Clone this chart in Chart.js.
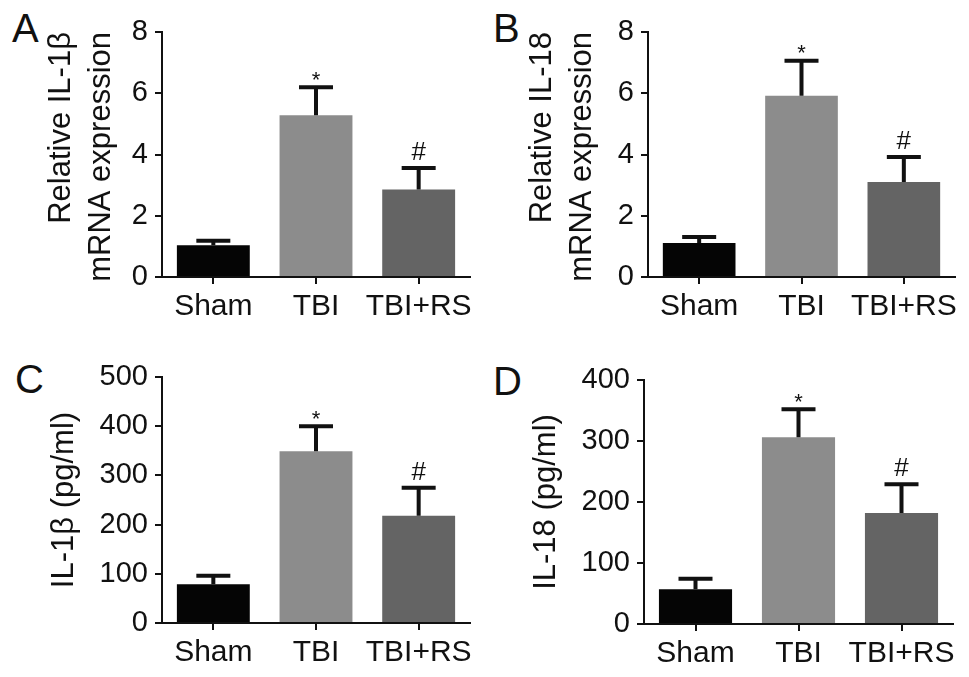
<!DOCTYPE html>
<html>
<head>
<meta charset="utf-8">
<script src="https://cdn.jsdelivr.net/npm/chart.js@4.4.0/dist/chart.umd.min.js"></script>
<style>
  body { margin: 0; background: #fff; }
  #fig { position: relative; width: 969px; height: 677px; overflow: hidden; }
  .panel { position: absolute; }
  .letter { position: absolute; font: 40px "Liberation Sans", Arial, sans-serif; line-height: 40px; color: #111; }
</style>
</head>
<body>
<div id="fig"></div>
<script>
// groups on the x axis
const groups = ['Sham', 'TBI', 'TBI+RS'];
const groupColors = ['#050505', '#8c8c8c', '#646464'];
const marks = ['', '*', '#'];

// A: relative IL-1β mRNA
const il1bMrna = [1.04, 5.28, 2.86];
const il1bMrnaErr = [0.14, 0.92, 0.70];
// B: relative IL-18 mRNA
const il18Mrna = [1.11, 5.92, 3.10];
const il18MrnaErr = [0.20, 1.14, 0.82];
// C: IL-1β protein (pg/ml)
const il1bProt = [79, 349, 218];
const il1bProtErr = [17, 51, 57];
// D: IL-18 protein (pg/ml)
const il18Prot = [57, 306, 182];
const il18ProtErr = [17, 46, 47];

const font = '"Liberation Sans", Arial, sans-serif';
const ink = '#111';

const panels = [
  { letter: 'A', lx: 12, ly: 8, values: il1bMrna, errors: il1bMrnaErr, max: 8, step: 2,
    title: ['Relative IL-1β', 'mRNA expression'], align: 'end', tpad: 41,
    x: 0, y: 0, w: 480, h: 330, axisX: 162, top: 32, bottom: 277, right: 470 },
  { letter: 'B', lx: 493, ly: 8, values: il18Mrna, errors: il18MrnaErr, max: 8, step: 2,
    title: ['Relative IL-18', 'mRNA expression'], align: 'end', tpad: 42,
    x: 480, y: 0, w: 489, h: 330, axisX: 168, top: 32, bottom: 277, right: 475 },
  { letter: 'C', lx: 15, ly: 359, values: il1bProt, errors: il1bProtErr, max: 500, step: 100,
    title: 'IL-1β (pg/ml)', align: 'center', tpad: 44,
    x: 0, y: 330, w: 480, h: 347, axisX: 162, top: 47, bottom: 293, right: 470 },
  { letter: 'D', lx: 493, ly: 361, values: il18Prot, errors: il18ProtErr, max: 400, step: 100,
    title: 'IL-18 (pg/ml)', align: 'center', tpad: 46,
    x: 480, y: 330, w: 489, h: 347, axisX: 164, top: 50, bottom: 294, right: 473 }
];

// upper error bars plus the * / # marks
const errorBars = {
  id: 'errorBars',
  afterDatasetsDraw(chart, args, opts) {
    const ctx = chart.ctx;
    const yScale = chart.scales.y;
    const meta = chart.getDatasetMeta(0);
    const vals = chart.data.datasets[0].data;
    ctx.save();
    ctx.strokeStyle = ink;
    ctx.fillStyle = ink;
    ctx.lineWidth = 4;
    meta.data.forEach((bar, i) => {
      const yTop = yScale.getPixelForValue(vals[i]);
      const yCap = yScale.getPixelForValue(vals[i] + opts.errors[i]);
      ctx.beginPath();
      ctx.moveTo(bar.x, yTop);
      ctx.lineTo(bar.x, yCap);
      ctx.moveTo(bar.x - 17, yCap);
      ctx.lineTo(bar.x + 17, yCap);
      ctx.stroke();
      ctx.textAlign = 'center';
      ctx.textBaseline = 'alphabetic';
      if (marks[i] === '*') {
        ctx.font = '22px ' + font;
        ctx.fillText('*', bar.x, yCap - 13 + 12.5);
      } else if (marks[i] === '#') {
        ctx.font = '26px ' + font;
        ctx.fillText('#', bar.x, yCap - 8);
      }
    });
    ctx.restore();
  }
};

const fig = document.getElementById('fig');

panels.forEach(p => {
  const letter = document.createElement('div');
  letter.className = 'letter';
  letter.style.left = p.lx + 'px';
  letter.style.top = p.ly + 'px';
  letter.textContent = p.letter;
  fig.appendChild(letter);

  const box = document.createElement('div');
  box.className = 'panel';
  box.style.left = p.x + 'px';
  box.style.top = p.y + 'px';
  const canvas = document.createElement('canvas');
  canvas.width = p.w;
  canvas.height = p.h;
  box.appendChild(canvas);
  fig.appendChild(box);

  new Chart(canvas.getContext('2d'), {
    type: 'bar',
    data: {
      labels: groups,
      datasets: [{
        data: p.values,
        backgroundColor: groupColors,
        borderWidth: 0,
        barPercentage: 0.71,
        categoryPercentage: 1
      }]
    },
    options: {
      responsive: false,
      animation: false,
      devicePixelRatio: 1,
      layout: { padding: { left: 0, top: p.top, right: p.w - p.right, bottom: 0 } },
      plugins: {
        legend: { display: false },
        tooltip: { enabled: false },
        errorBars: { errors: p.errors }
      },
      scales: {
        x: {
          afterFit: s => { s.height = p.h - p.bottom; },
          grid: { display: true, drawOnChartArea: false, offset: false, tickLength: 7, color: ink, lineWidth: 2 },
          border: { color: ink, width: 2 },
          ticks: { color: ink, padding: 5, autoSkip: false, maxRotation: 0, minRotation: 0,
                   font: { family: font, size: 30 } }
        },
        y: {
          min: 0,
          max: p.max,
          afterFit: s => { s.width = p.axisX; },
          ticks: { stepSize: p.step, color: ink, padding: 7, font: { family: font, size: 29 } },
          grid: { drawOnChartArea: false, tickLength: 7, color: ink, lineWidth: 2 },
          border: { color: ink, width: 2 },
          title: {
            display: true,
            text: p.title,
            align: p.align,
            color: ink,
            font: { family: font, size: 31, lineHeight: 1.29 },
            padding: { top: p.tpad, bottom: 0 }
          }
        }
      }
    },
    plugins: [errorBars]
  });
});
</script>
</body>
</html>
